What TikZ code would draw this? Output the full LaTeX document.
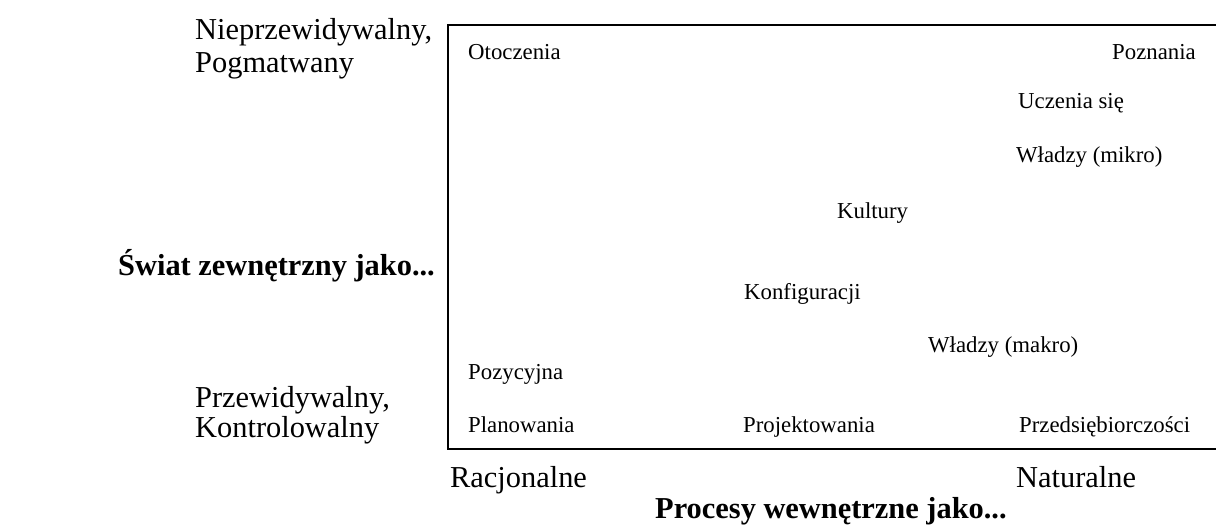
\documentclass[tikz,border=0pt]{standalone}
\usepackage{fontspec}
\setmainfont{Liberation Serif}
\begin{document}
\begin{tikzpicture}[x=1pt,y=-1pt,
  lbl/.style={anchor=base west,inner sep=0pt,font=\fontsize{22.8}{26}\selectfont},
  axis/.style={anchor=base west,inner sep=0pt,font=\fontsize{30.4}{35}\selectfont},
  axistitle/.style={axis,font=\fontsize{30.4}{35}\selectfont\bfseries},
  frame/.style={draw=black,line width=2pt}]
\useasboundingbox (0,0) rectangle (1216,530);

% open frame of the map (right side runs off the edge)
\draw[frame] (1216,25) -- (448,25) -- (448,449) -- (1216,449);

% vertical axis labels
\node[axis] (nieprz) at (195,39) {Nieprzewidywalny,};
\node[axis] (pogm) at (195,72) {Pogmatwany};
\node[axistitle] (swiat) at (118,275) {Świat zewnętrzny jako...};
\node[axis] (przew) at (195,407) {Przewidywalny,};
\node[axis] (kontr) at (195,437) {Kontrolowalny};

% horizontal axis labels
\node[axis] (racj) at (450,487) {Racjonalne};
\node[axis] (natur) at (1016,487) {Naturalne};
\node[axistitle] (proc) at (655,518) {Procesy wewnętrzne jako...};

% schools placed inside the map
\node[lbl] (otocz) at (468,59) {Otoczenia};
\node[lbl] (pozn) at (1112,59) {Poznania};
\node[lbl] (uczen) at (1018,108) {Uczenia się};
\node[lbl] (wmikro) at (1016,162) {Władzy (mikro)};
\node[lbl] (kult) at (837,218) {Kultury};
\node[lbl] (konf) at (744,299) {Konfiguracji};
\node[lbl] (wmakro) at (928,352) {Władzy (makro)};
\node[lbl] (pozyc) at (468,379) {Pozycyjna};
\node[lbl] (plan) at (468,432) {Planowania};
\node[lbl] (proj) at (743,432) {Projektowania};
\node[lbl] (przeds) at (1019,432) {Przedsiębiorczości};
\end{tikzpicture}
\end{document}
